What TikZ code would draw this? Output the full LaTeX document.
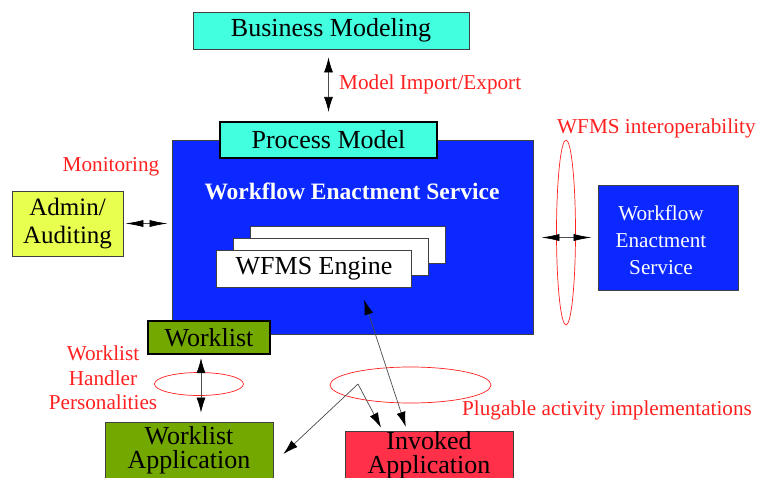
\documentclass[tikz,border=0pt]{standalone}
\usepackage{fontspec}
\IfFontExistsTF{LiberationSerif-Regular.ttf}
    {\setmainfont{LiberationSerif}[Extension=.ttf, UprightFont=*-Regular, BoldFont=*-Bold,
        ItalicFont=*-Italic, BoldItalicFont=*-BoldItalic]}
    {\setmainfont{Liberation Serif}}
\usetikzlibrary{arrows.meta}

\definecolor{modelcyan}{HTML}{42FFE0}
\definecolor{wesblue}{HTML}{0A28FF}
\definecolor{adminyellow}{HTML}{E8FF50}
\definecolor{wlgreen}{HTML}{72A800}
\definecolor{appred}{HTML}{FF3048}
\definecolor{notered}{HTML}{FF2020}

\tikzset{
    box/.style={draw=black!75, line width=0.8pt, inner sep=0pt, align=center,
        font=\rmfamily\fontsize{26}{24}\selectfont},
    heavybox/.style={box, draw=black, line width=2.2pt},
    card/.style={box, fill=white, minimum width=195pt, minimum height=37pt},
    note/.style={text=notered, inner sep=0pt, align=center,
        font=\rmfamily\fontsize{21.2}{24.5}\selectfont},
    ring/.style={draw=notered, line width=0.7pt},
    biarrow/.style={draw=black!70, line width=0.7pt,
        {Latex[length=15pt,width=9pt,black]}-{Latex[length=15pt,width=9pt,black]}},
    flatarrow/.style={draw=black!70, line width=0.7pt,
        {Latex[length=18pt,width=7pt,black]}-{Latex[length=18pt,width=7pt,black]}},
    onearrow/.style={draw=black!70, line width=0.7pt, -{Latex[length=15pt,width=9pt,black]}}
}

\begin{document}
\begin{tikzpicture}[x=1pt,y=-1pt]
    \useasboundingbox (0,0) rectangle (758,477);
    \fill[white] (0,0) rectangle (758,477);

    \node[box, fill=modelcyan, minimum width=276pt, minimum height=37pt] (bm) at (331, 30.5) {Business Modeling};
    \node[box, fill=wesblue, minimum width=361pt, minimum height=194pt] (wes) at (352.5, 237) {};
    \node[heavybox, fill=modelcyan, minimum width=217pt, minimum height=36pt] (pm) at (328.5, 140) {Process Model};
    \node[text=white, inner sep=0pt, font=\rmfamily\fontsize{23.5}{24}\selectfont\bfseries] (westitle) at (352, 191) {Workflow Enactment Service};

    \foreach \k in {2,1}
        \node[card] (card\k) at (314+17*\k, 268.5-12*\k) {};
    \node[card] (engine) at (314, 268.5) {WFMS Engine};

    \node[box, fill=adminyellow, minimum width=111pt, minimum height=65pt,
        font=\rmfamily\fontsize{25}{28}\selectfont] (admin) at (67.5, 223.5) {Admin/\\Auditing};
    \node[box, fill=wesblue, minimum width=140pt, minimum height=105pt] (remote) at (668, 237.5) {};
    \node[text=white, inner sep=0pt, align=center, font=\rmfamily\fontsize{21.2}{27}\selectfont]
        (remotetxt) at ([shift={(-7,2.5)}]remote.center) {Workflow\\Enactment\\Service};

    \node[heavybox, fill=wlgreen, minimum width=122pt, minimum height=33pt] (wl) at (209, 337.5) {Worklist};
    \node[box, fill=wlgreen, minimum width=168pt, minimum height=56pt] (wla) at (189, 450) {Worklist\\Application};
    \node[box, fill=appred, minimum width=168pt, minimum height=48pt] (ia) at (429, 455) {Invoked\\Application};

    \draw[ring] (566, 232.5) ellipse [x radius=9.5, y radius=92.5];
    \draw[ring] (199, 384) ellipse [x radius=44.5, y radius=11.5];
    \draw[ring] (410.5, 385) ellipse [x radius=80.5, y radius=18];

    \draw[biarrow, shorten <=8pt, shorten >=9pt] (bm.south -| pm) -- (pm.north);
    \draw[flatarrow, shorten <=2pt, shorten >=4pt] (admin.east) -- (admin.east -| wes.west);
    \draw[flatarrow, shorten <=8pt, shorten >=6pt] (remote.west -| wes.east) -- (remote.west);
    \draw[biarrow, shorten <=3pt, shorten >=9pt] ([xshift=-8pt]wl.south) -- ([xshift=-8pt]wl.south |- wla.north);
    \draw[biarrow, shorten <=13pt, shorten >=4pt] ([xshift=46pt]engine.south) -- ([xshift=-22pt]ia.north);

    \coordinate (plug) at (358, 384);
    \draw[onearrow] (plug) -- ([shift={(10,4)}]wla.east);
    \draw[onearrow] (plug) -- ([shift={(-48,-3)}]ia.north);

    \node[note, anchor=west] (mie) at (339, 84) {Model Import/Export};
    \node[note] (mon) at (111, 167) {Monitoring};
    \node[note, anchor=west] (interop) at (557, 128) {WFMS interoperability};
    \node[note] (whp) at (103, 378) {Worklist\\Handler\\Personalities};
    \node[note, anchor=west] (plugable) at (462, 410) {Plugable activity implementations};
\end{tikzpicture}
\end{document}
